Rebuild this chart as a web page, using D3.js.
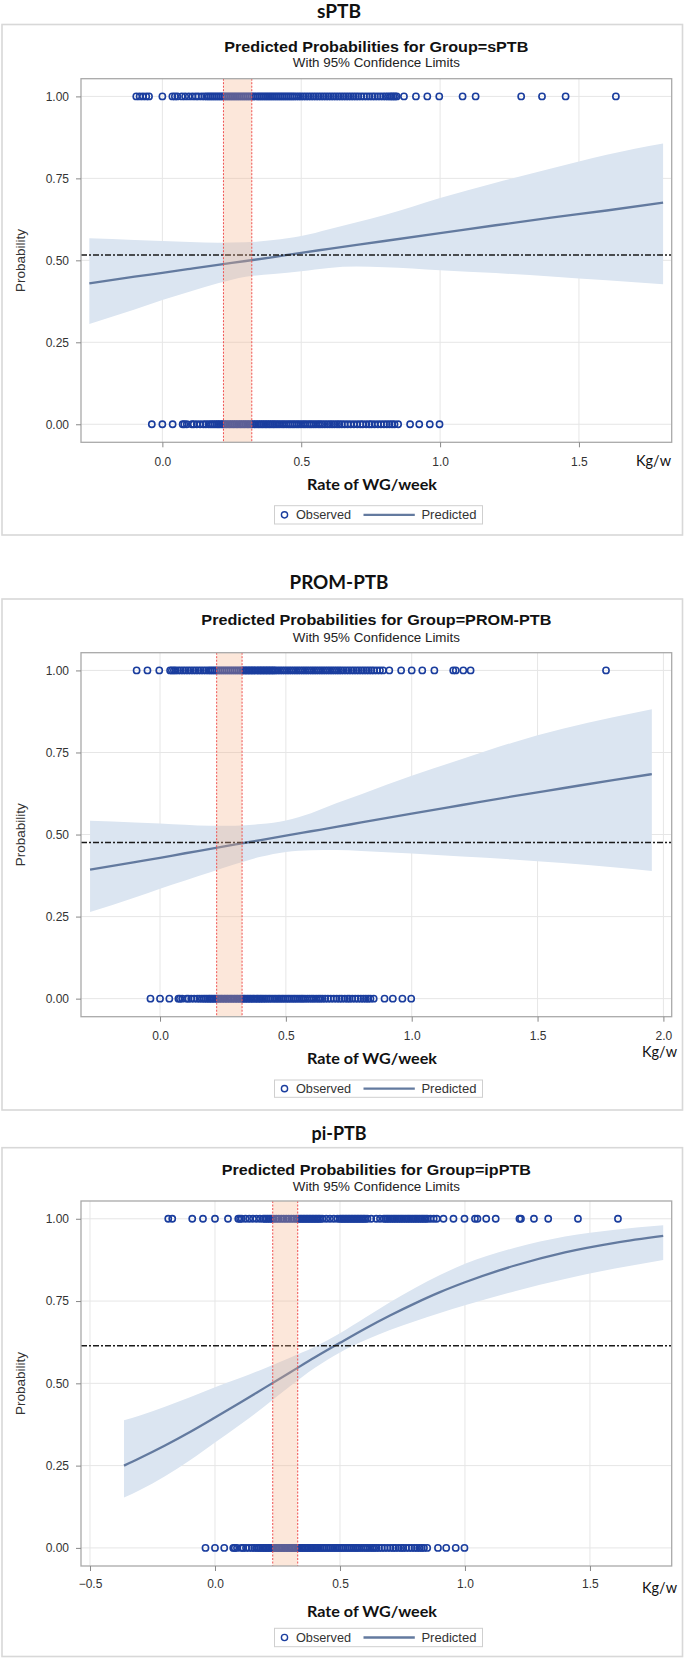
<!DOCTYPE html>
<html><head><meta charset="utf-8">
<script src="https://cdn.jsdelivr.net/npm/d3@7"></script>
<style>
body{margin:0;background:#fff}
svg text{font-family:"Liberation Sans",Arial,sans-serif}
</style>
</head><body>
<svg id="c" width="685" height="1660"></svg>
<script>
// ---------------- DATA ----------------
const headings = ["sPTB", "PROM-PTB", "pi-PTB"];
const chartTitles = ["Predicted Probabilities for Group=sPTB", "Predicted Probabilities for Group=PROM-PTB", "Predicted Probabilities for Group=ipPTB"];
const subTitle = "With 95% Confidence Limits";
const xLabel = "Rate of WG/week";
const unitLabel = "Kg/w";
const yLabel = "Probability";
const legendLabels = ["Observed", "Predicted"];

const yTicks = [0, 0.25, 0.5, 0.75, 1];
const yDomain = [-0.055, 1.054];
const sptbXTicks = [0, 0.5, 1, 1.5];
const promXTicks = [0, 0.5, 1, 1.5, 2];
const ipXTicks = [-0.5, 0, 0.5, 1, 1.5];
const sptbXDomain = [-0.293, 1.834];
const promXDomain = [-0.314, 2.033];
const ipXDomain = [-0.536, 1.827];

// reference (dash-dot) levels and highlighted ranges
const refLevels = [0.516, 0.476, 0.6145];
const sptbRange = [0.22, 0.322];
const promRange = [0.225, 0.326];
const ipRange = [0.231, 0.331];

// fitted curves with 95% limits
const sptbFitX  = [-0.263,-0.1,0,0.1,0.2,0.3,0.4,0.5,0.6,0.7,0.8,1.0,1.2,1.4,1.6,1.803];
const sptbPred  = [0.430,0.450,0.462,0.474,0.486,0.498,0.510,0.523,0.535,0.547,0.559,0.583,0.607,0.630,0.652,0.676];
const sptbUpper = [0.567,0.562,0.559,0.556,0.554,0.555,0.562,0.574,0.595,0.616,0.638,0.690,0.737,0.780,0.822,0.856];
const sptbLower = [0.306,0.350,0.379,0.405,0.430,0.450,0.458,0.467,0.477,0.481,0.479,0.470,0.461,0.451,0.439,0.427];

const promFitX  = [-0.278,-0.1,0,0.1,0.2,0.3,0.4,0.5,0.6,0.7,0.8,1.0,1.2,1.4,1.6,1.8,1.954];
const promPred  = [0.393,0.416,0.429,0.443,0.456,0.470,0.483,0.497,0.510,0.523,0.537,0.564,0.590,0.616,0.641,0.666,0.684];
const promUpper = [0.542,0.537,0.534,0.530,0.527,0.527,0.532,0.543,0.565,0.595,0.623,0.679,0.730,0.780,0.822,0.857,0.882];
const promLower = [0.264,0.308,0.335,0.360,0.385,0.410,0.432,0.447,0.452,0.453,0.450,0.442,0.433,0.424,0.413,0.400,0.389];

const ipFitX  = [-0.364,-0.3,-0.2,-0.1,0,0.1,0.2,0.3,0.4,0.5,0.6,0.7,0.8,0.9,1.0,1.2,1.4,1.6,1.793];
const ipPred  = [0.250,0.273,0.311,0.352,0.396,0.441,0.487,0.533,0.579,0.623,0.666,0.706,0.743,0.777,0.807,0.858,0.898,0.927,0.948];
const ipUpper = [0.388,0.402,0.429,0.458,0.488,0.516,0.546,0.578,0.611,0.652,0.699,0.746,0.790,0.829,0.863,0.912,0.946,0.967,0.980];
const ipLower = [0.153,0.176,0.218,0.266,0.320,0.374,0.431,0.491,0.547,0.594,0.631,0.662,0.689,0.714,0.737,0.780,0.817,0.849,0.875];

// observed rate of weight gain: outcome = 0 (same comparison group in all three models)
const obsZero = [-0.038,0.0,0.037,0.073,0.079,0.088,0.106,0.113,0.124,0.136,0.148,0.157,0.166,0.174,0.181,0.188,0.195,0.201,0.207,0.214,0.22,0.227,0.233,0.24,0.246,0.253,0.259,0.266,0.272,0.279,0.285,0.292,0.298,0.305,0.311,0.318,0.324,0.331,0.337,0.344,0.35,0.357,0.363,0.37,0.376,0.383,0.389,0.396,0.402,0.409,0.416,0.423,0.431,0.438,0.446,0.454,0.461,0.469,0.476,0.484,0.491,0.499,0.507,0.514,0.522,0.53,0.537,0.545,0.553,0.561,0.568,0.576,0.585,0.594,0.603,0.611,0.62,0.629,0.637,0.646,0.656,0.667,0.678,0.69,0.702,0.713,0.722,0.734,0.745,0.753,0.764,0.776,0.787,0.798,0.808,0.818,0.827,0.836,0.849,0.892,0.925,0.963,0.998];

// observed, outcome = 1
const sptbObsOne = [-0.094,-0.082,-0.07,-0.058,-0.048,0.0,0.036,0.045,0.054,0.07,0.082,0.095,0.108,0.12,0.13,0.142,0.152,0.16,0.167,0.174,0.181,0.188,0.195,0.202,0.209,0.216,0.223,0.23,0.237,0.244,0.251,0.258,0.265,0.272,0.279,0.286,0.293,0.3,0.307,0.314,0.321,0.328,0.335,0.342,0.349,0.356,0.363,0.37,0.377,0.384,0.391,0.398,0.405,0.412,0.419,0.426,0.433,0.44,0.447,0.454,0.461,0.468,0.475,0.483,0.491,0.499,0.508,0.517,0.526,0.535,0.544,0.553,0.562,0.571,0.58,0.589,0.598,0.607,0.616,0.625,0.634,0.643,0.652,0.661,0.67,0.679,0.688,0.697,0.706,0.716,0.726,0.736,0.746,0.756,0.765,0.775,0.785,0.795,0.804,0.812,0.82,0.826,0.832,0.838,0.844,0.87,0.913,0.954,0.997,1.081,1.128,1.292,1.367,1.452,1.633];

const promObsOne = [-0.093,-0.05,-0.003,0.04,0.047,0.055,0.062,0.072,0.082,0.092,0.102,0.112,0.122,0.132,0.142,0.152,0.162,0.172,0.182,0.192,0.2,0.208,0.216,0.224,0.232,0.24,0.248,0.256,0.264,0.272,0.28,0.288,0.296,0.304,0.312,0.32,0.327,0.333,0.339,0.345,0.351,0.357,0.363,0.369,0.375,0.381,0.387,0.393,0.399,0.405,0.411,0.417,0.423,0.429,0.435,0.441,0.447,0.453,0.459,0.468,0.477,0.486,0.495,0.504,0.513,0.522,0.531,0.54,0.549,0.558,0.567,0.576,0.585,0.594,0.603,0.612,0.621,0.63,0.639,0.648,0.657,0.666,0.675,0.684,0.693,0.702,0.711,0.72,0.73,0.74,0.75,0.76,0.77,0.78,0.79,0.8,0.81,0.82,0.83,0.84,0.85,0.862,0.874,0.886,0.911,0.958,1.0,1.042,1.09,1.165,1.175,1.205,1.234,1.772];

const ipObsOne = [-0.187,-0.171,-0.091,-0.048,0.0,0.052,0.093,0.1,0.107,0.122,0.137,0.152,0.165,0.18,0.193,0.2,0.207,0.214,0.221,0.228,0.235,0.245,0.255,0.265,0.275,0.285,0.295,0.305,0.315,0.325,0.332,0.338,0.344,0.35,0.356,0.362,0.368,0.374,0.38,0.386,0.392,0.398,0.404,0.41,0.416,0.422,0.43,0.445,0.46,0.475,0.49,0.5,0.506,0.512,0.518,0.524,0.53,0.536,0.542,0.548,0.554,0.56,0.566,0.572,0.578,0.584,0.59,0.596,0.602,0.61,0.625,0.645,0.66,0.675,0.682,0.689,0.696,0.703,0.71,0.717,0.724,0.731,0.738,0.745,0.752,0.759,0.766,0.773,0.78,0.787,0.794,0.801,0.808,0.815,0.822,0.829,0.836,0.843,0.85,0.862,0.875,0.887,0.914,0.954,0.998,1.04,1.05,1.085,1.123,1.218,1.224,1.276,1.333,1.452,1.612];

// --------------- assemble ----------------
const panels = [
  {xTicks: sptbXTicks, xDomain: sptbXDomain, fitX: sptbFitX, pred: sptbPred, up: sptbUpper, lo: sptbLower, one: sptbObsOne, range: sptbRange},
  {xTicks: promXTicks, xDomain: promXDomain, fitX: promFitX, pred: promPred, up: promUpper, lo: promLower, one: promObsOne, range: promRange},
  {xTicks: ipXTicks, xDomain: ipXDomain, fitX: ipFitX, pred: ipPred, up: ipUpper, lo: ipLower, one: ipObsOne, range: ipRange}
];

// layout (pixel positions)
const layouts = [
  {head:17.5, bt:24.5, bb:535, title:51.5, sub:67, pt:78.7, pb:442.3, tick:466, kg:466, kgX:671, xlab:489.5, lt:505.7, lb:524},
  {head:588.5, bt:599, bb:1110, title:625, sub:642, pt:652.7, pb:1016.7, tick:1040, kg:1057, kgX:677, xlab:1063.5, lt:1080, lb:1097.3},
  {head:1139.5, bt:1147.7, bb:1656.5, title:1174.5, sub:1190.5, pt:1201, pb:1566, tick:1587.5, kg:1593, kgX:677, xlab:1617, lt:1628.3, lb:1646.7}
];
const headW = [44, 99, 55];
const titleW = [304, 350, 309];
const PL = 81, PR = 671.7;

const C = {
  obs: "#1a3d9e", fit: "#637a9f", band: "#dbe5f1", grid: "#e6e6e6",
  frame: "#a9a9a9", text: "#333333", border: "#d8d8d8"
};

const svg = d3.select("#c");

panels.forEach((p, i) => {
  const L = layouts[i];
  const g = svg.append("g");
  const x = d3.scaleLinear().domain(p.xDomain).range([PL, PR]);
  const y = d3.scaleLinear().domain(yDomain).range([L.pb, L.pt]);

  // panel border
  g.append("rect").attr("x", 2).attr("y", L.bt).attr("width", 680.5).attr("height", L.bb - L.bt)
    .attr("fill", "none").attr("stroke", C.border).attr("stroke-width", 1.6);

  // heading
  g.append("text").attr("x", 339).attr("y", L.head).attr("text-anchor", "middle")
    .style("font-family", "Lato, 'Open Sans', sans-serif").style("font-weight", "bold").style("font-size", "18.5px")
    .attr("textLength", headW[i]).attr("lengthAdjust", "spacingAndGlyphs")
    .attr("fill", "#111").text(headings[i]);

  // titles
  g.append("text").attr("x", (PL + PR) / 2).attr("y", L.title).attr("text-anchor", "middle")
    .style("font-weight", "bold").style("font-size", "15.5px").attr("fill", "#111")
    .attr("textLength", titleW[i]).attr("lengthAdjust", "spacingAndGlyphs").text(chartTitles[i]);
  g.append("text").attr("x", (PL + PR) / 2).attr("y", L.sub).attr("text-anchor", "middle")
    .style("font-size", "13px").attr("fill", "#222")
    .attr("textLength", 167).attr("lengthAdjust", "spacingAndGlyphs").text(subTitle);

  // clip
  const cid = "clip" + i;
  svg.append("clipPath").attr("id", cid).append("rect")
    .attr("x", PL).attr("y", L.pt).attr("width", PR - PL).attr("height", L.pb - L.pt);
  const plot = g.append("g").attr("clip-path", `url(#${cid})`);

  // grid
  plot.selectAll(".gx").data(p.xTicks).join("line")
    .attr("x1", d => x(d)).attr("x2", d => x(d)).attr("y1", L.pt).attr("y2", L.pb)
    .attr("stroke", C.grid).attr("stroke-width", 1);
  plot.selectAll(".gy").data(yTicks).join("line")
    .attr("x1", PL).attr("x2", PR).attr("y1", d => y(d)).attr("y2", d => y(d))
    .attr("stroke", C.grid).attr("stroke-width", 1);

  // confidence band
  const fit = p.fitX.map((v, k) => ({x: v, p: p.pred[k], u: p.up[k], l: p.lo[k]}));
  plot.append("path").datum(fit)
    .attr("d", d3.area().x(d => x(d.x)).y0(d => y(d.l)).y1(d => y(d.u)).curve(d3.curveMonotoneX))
    .attr("fill", C.band);
  plot.append("path").datum(fit)
    .attr("d", d3.line().x(d => x(d.x)).y(d => y(d.p)).curve(d3.curveMonotoneX))
    .attr("fill", "none").attr("stroke", C.fit).attr("stroke-width", 2.3);

  // reference dash-dot line
  plot.append("line").attr("x1", PL).attr("x2", PR).attr("y1", y(refLevels[i])).attr("y2", y(refLevels[i]))
    .attr("stroke", "#1a1a1a").attr("stroke-width", 1.5).attr("stroke-dasharray", "6,2,2,2");

  // observed
  const obs = p.one.map(v => ({x: v, y: 1})).concat(obsZero.map(v => ({x: v, y: 0})));
  plot.selectAll(".obs").data(obs).join("circle")
    .attr("cx", d => x(d.x)).attr("cy", d => y(d.y)).attr("r", 3.1)
    .attr("fill", "none").attr("stroke", C.obs).attr("stroke-width", 1.6);

  // highlighted range
  plot.append("rect").attr("x", x(p.range[0])).attr("width", x(p.range[1]) - x(p.range[0]))
    .attr("y", L.pt).attr("height", L.pb - L.pt).attr("fill", "#f4b183").attr("fill-opacity", 0.3);
  plot.selectAll(".rl").data(p.range).join("line")
    .attr("x1", d => x(d)).attr("x2", d => x(d)).attr("y1", L.pt).attr("y2", L.pb)
    .attr("stroke", "#f05050").attr("stroke-width", 1).attr("stroke-dasharray", "2,1.5");

  // frame
  g.append("rect").attr("x", PL).attr("y", L.pt).attr("width", PR - PL).attr("height", L.pb - L.pt)
    .attr("fill", "none").attr("stroke", C.frame).attr("stroke-width", 1.3);

  // axes
  const ya = g.append("g").attr("transform", `translate(${PL},0)`)
    .call(d3.axisLeft(y).tickValues(yTicks).tickFormat(d3.format(".2f")).tickSize(5).tickPadding(7));
  ya.select(".domain").remove();
  ya.selectAll("line").attr("stroke", "#888");
  ya.selectAll("text").style("font-size", "12px").attr("fill", C.text).style("font-family", "'Liberation Sans', Arial, sans-serif");

  const xa = g.append("g").attr("transform", `translate(0,${L.pb})`)
    .call(d3.axisBottom(x).tickValues(p.xTicks).tickFormat(d3.format(".1f")).tickSize(5));
  xa.select(".domain").remove();
  xa.selectAll("line").attr("stroke", "#888");
  xa.selectAll("text").attr("y", L.tick - L.pb).attr("dy", null).style("font-size", "12px")
    .attr("fill", C.text).style("font-family", "'Liberation Sans', Arial, sans-serif");

  // axis labels
  g.append("text").attr("transform", `translate(24.5,${(L.pt + L.pb) / 2}) rotate(-90)`)
    .attr("text-anchor", "middle").style("font-size", "13.5px").attr("fill", C.text).text(yLabel);
  g.append("text").attr("x", 372).attr("y", L.xlab).attr("text-anchor", "middle")
    .style("font-family", "Lato, 'Open Sans', sans-serif").style("font-weight", "bold").style("font-size", "16px")
    .attr("textLength", 130).attr("lengthAdjust", "spacingAndGlyphs").attr("fill", "#111").text(xLabel);
  g.append("text").attr("x", L.kgX).attr("y", L.kg).attr("text-anchor", "end")
    .style("font-family", "Lato, 'Open Sans', sans-serif").style("font-size", "15px")
    .attr("textLength", 35).attr("lengthAdjust", "spacingAndGlyphs").attr("fill", "#111").text(unitLabel);

  // legend
  const lc = (L.lt + L.lb) / 2;
  g.append("rect").attr("x", 274.5).attr("y", L.lt).attr("width", 208).attr("height", L.lb - L.lt)
    .attr("fill", "#fff").attr("stroke", "#cfcfcf").attr("stroke-width", 1);
  g.append("circle").attr("cx", 284.5).attr("cy", lc).attr("r", 3.1)
    .attr("fill", "none").attr("stroke", C.obs).attr("stroke-width", 1.4);
  g.append("text").attr("x", 296).attr("y", lc + 4.5).style("font-size", "12.5px").attr("fill", C.text)
    .attr("textLength", 55).attr("lengthAdjust", "spacingAndGlyphs").text(legendLabels[0]);
  g.append("line").attr("x1", 363.5).attr("x2", 414.8).attr("y1", lc).attr("y2", lc)
    .attr("stroke", C.fit).attr("stroke-width", 2.3);
  g.append("text").attr("x", 421.4).attr("y", lc + 4.5).style("font-size", "12.5px").attr("fill", C.text)
    .attr("textLength", 55).attr("lengthAdjust", "spacingAndGlyphs").text(legendLabels[1]);
});
</script>
</body></html>
